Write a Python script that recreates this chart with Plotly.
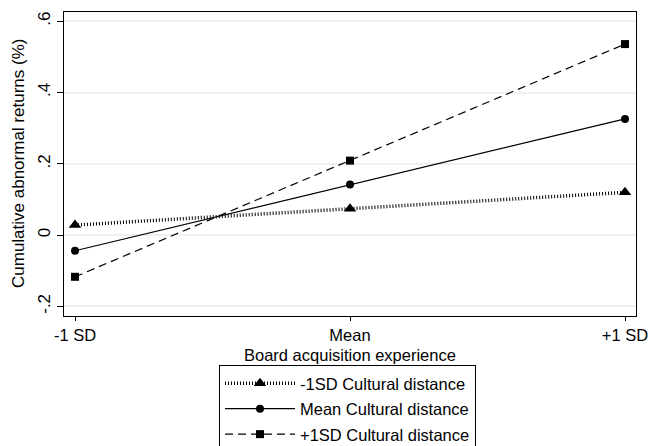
import plotly.graph_objects as go

x_pos = [-1, 0, 1]
x_labels = ["-1 SD", "Mean", "+1 SD"]
low_cd = [0.028, 0.074, 0.12]
mean_cd = [-0.044, 0.142, 0.326]
high_cd = [-0.117, 0.209, 0.536]
series_names = ["-1SD Cultural distance", "Mean Cultural distance", "+1SD Cultural distance"]
y_ticks = [-0.2, 0, 0.2, 0.4, 0.6]
y_tick_labels = ["-.2", "0", ".2", ".4", ".6"]

FONT = "Liberation Sans, Arial, sans-serif"
FS = 17
L, R, T, B = 64, 14, 12, 130
W, H = 650, 446
PW, PH = W - L - R, H - T - B

fig = go.Figure()
fig.add_trace(go.Scatter(
    x=x_pos, y=low_cd, name=series_names[0], mode="lines+markers",
    line=dict(color="black", width=3.5, dash="1px,2px"),
    marker=dict(symbol="triangle-up", size=11, color="black"),
    legendgroup="a"))
fig.add_trace(go.Scatter(
    x=x_pos, y=mean_cd, name=series_names[1], mode="lines+markers",
    line=dict(color="black", width=1.2),
    marker=dict(symbol="circle", size=8, color="black"),
    legendgroup="b"))
fig.add_trace(go.Scatter(
    x=x_pos, y=high_cd, name=series_names[2], mode="lines+markers",
    line=dict(color="black", width=1.2, dash="8px,5px"),
    marker=dict(symbol="square", size=8, color="black"),
    legendgroup="c"))

fig.update_layout(
    width=W, height=H,
    margin=dict(l=L, r=R, t=T, b=B, autoexpand=False),
    paper_bgcolor="white", plot_bgcolor="white",
    font=dict(family=FONT, size=FS, color="black"),
    showlegend=True,
    legend=dict(
        xref="container", yref="container",
        x=219/W, y=1-365/H, xanchor="left", yanchor="top",
        bordercolor="black", borderwidth=1, bgcolor="white",
        font=dict(family=FONT, size=16.5, color="black"),
        tracegroupgap=1, traceorder="grouped", itemwidth=70,
    ),
    annotations=[
        dict(text="Cumulative abnormal returns (%)", textangle=-90,
             xref="paper", yref="paper", x=(18 - L) / PW, y=0.5,
             xanchor="center", yanchor="middle", showarrow=False,
             font=dict(family=FONT, size=FS, color="black")),
        dict(text="Board acquisition experience",
             xref="paper", yref="paper", x=0.5, y=-(355 - T - PH) / PH,
             xanchor="center", yanchor="middle", showarrow=False,
             font=dict(family=FONT, size=16.5, color="black")),
    ],
)
fig.update_xaxes(
    range=[-1.04, 1.04], tickvals=x_pos, ticktext=x_labels,
    showgrid=False, zeroline=False,
    showline=True, linecolor="black", linewidth=1, mirror=True,
    ticks="outside", ticklen=4, tickcolor="black",
    tickfont=dict(family=FONT, size=16.5),
)
fig.update_yaxes(
    range=[-0.227, 0.626], tickvals=y_ticks, ticktext=y_tick_labels,
    tickangle=-90,
    showgrid=True, gridcolor="#eaf2f3", gridwidth=1.5, zeroline=False,
    showline=True, linecolor="black", linewidth=1, mirror=True,
    ticks="outside", ticklen=6, tickcolor="black",
    tickfont=dict(family=FONT, size=FS),
)

fig.write_html("out.html", config={"displayModeBar": False},
               post_script="document.body.style.margin='0';")
